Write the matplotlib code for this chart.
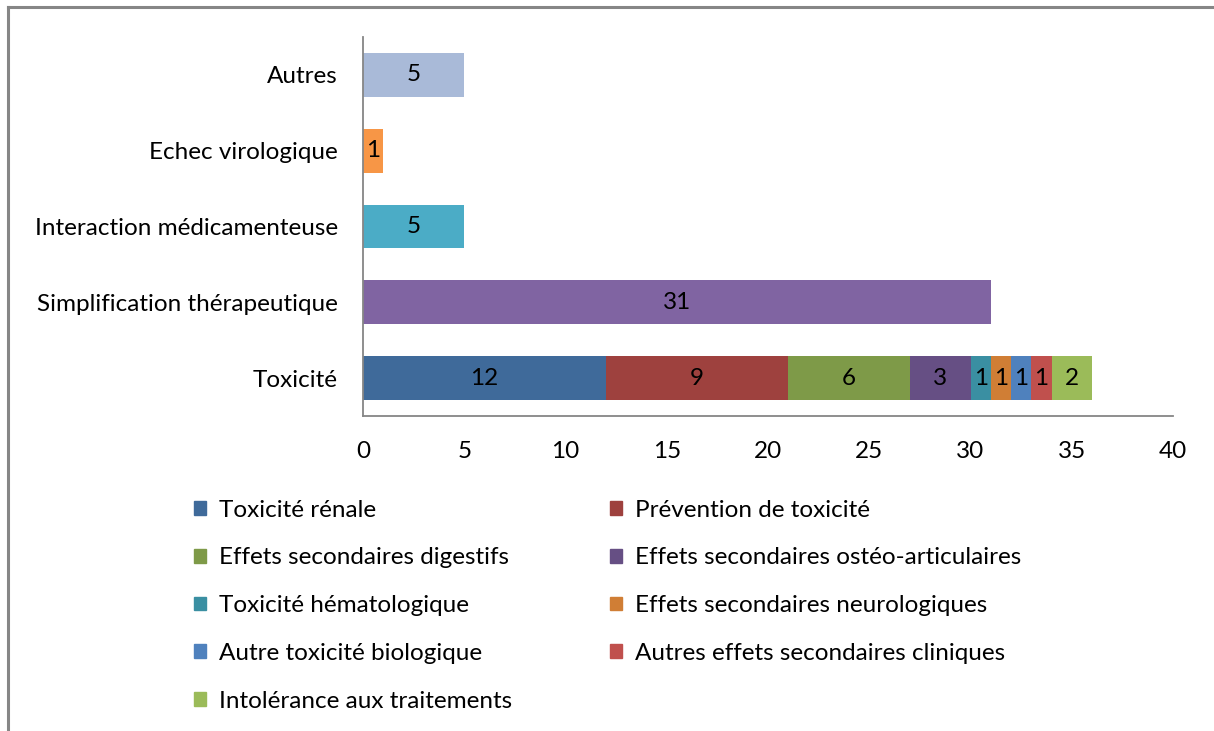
import matplotlib.pyplot as plt
from matplotlib.lines import Line2D
from matplotlib.patches import Patch

# categories from bottom to top
categories = ["Toxicité", "Simplification thérapeutique", "Interaction médicamenteuse",
              "Echec virologique", "Autres"]

# stacked toxicity segments (all on the "Toxicité" row)
tox_names = ["Toxicité rénale", "Prévention de toxicité", "Effets secondaires digestifs",
             "Effets secondaires ostéo-articulaires", "Toxicité hématologique",
             "Effets secondaires neurologiques", "Autre toxicité biologique",
             "Autres effets secondaires cliniques", "Intolérance aux traitements"]
tox_values = [12, 9, 6, 3, 1, 1, 1, 1, 2]
tox_colors = ["#3F6A9A", "#9E413E", "#7E9A48", "#664F84", "#3A8FA2",
              "#D07E35", "#4F81BD", "#C0504D", "#9BBB59"]

# the other rows, one value each
other_values = [31, 5, 1, 5]
other_colors = ["#8064A2", "#4BACC6", "#F79646", "#A9BAD8"]

plt.rcParams['font.family'] = ['Lato', 'DejaVu Sans']
fs = 17.5

fig = plt.figure(figsize=(12.14, 7.31), dpi=100)
ax = fig.add_axes([363 / 1214, 1 - 416 / 731, (1173 - 363) / 1214, (416 - 37) / 731])

h = 0.58
left = 0
for name, v, c in zip(tox_names, tox_values, tox_colors):
    bars = ax.barh(0, v, left=left, height=h, color=c, label=name)
    ax.bar_label(bars, labels=[str(v)], label_type='center', fontsize=fs, color='black')
    left += v

for i, (v, c) in enumerate(zip(other_values, other_colors)):
    bars = ax.barh(i + 1, v, height=h, color=c)
    ax.bar_label(bars, labels=[str(v)], label_type='center', fontsize=fs, color='black')

ax.set_xlim(0, 40)
ax.set_ylim(-0.5, 4.5)
ax.set_xticks(range(0, 41, 5))
ax.set_yticks(range(len(categories)))
ax.set_yticklabels(categories)
ax.tick_params(axis='both', length=0, labelsize=fs)
ax.tick_params(axis='x', pad=18)
ax.tick_params(axis='y', pad=18)
for s in ['top', 'right']:
    ax.spines[s].set_visible(False)
for s in ['left', 'bottom']:
    ax.spines[s].set_color('#868686')
    ax.spines[s].set_linewidth(1.3)

# legend filled row by row
handles = [Patch(color=c, label=n) for n, c in zip(tox_names, tox_colors)]
order = [0, 2, 4, 6, 8, 1, 3, 5, 7]
fig.legend([handles[i] for i in order], [tox_names[i] for i in order],
           loc='upper left', bbox_to_anchor=(184 / 1214, 1 - 490 / 731), ncol=2,
           frameon=False, fontsize=fs, handlelength=0.5, handleheight=0.5,
           handletextpad=0.55, columnspacing=4.0, labelspacing=1.1, borderaxespad=0)

# chart frame (only top and left edge visible)
fig.add_artist(Line2D([8 / 1214, 1], [1 - 7 / 731, 1 - 7 / 731], color='#868686', lw=2.2,
                      transform=fig.transFigure))
fig.add_artist(Line2D([8 / 1214, 8 / 1214], [0, 1 - 7 / 731], color='#868686', lw=2.2,
                      transform=fig.transFigure))

fig.savefig('out.png', dpi=100)
